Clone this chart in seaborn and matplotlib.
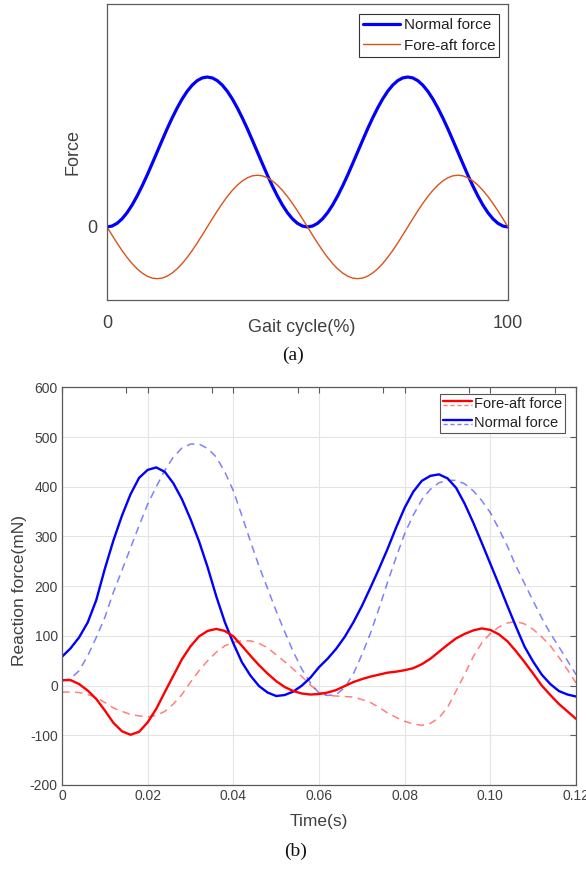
import numpy as np
import pandas as pd
import seaborn as sns
import matplotlib
matplotlib.use("Agg")
import matplotlib.pyplot as plt
from matplotlib.lines import Line2D
from matplotlib.legend_handler import HandlerBase

# ---- (a) schematic gait cycle, sampled every 1.25 %
gait_pct = np.linspace(0, 100, 81)
normal_schematic = [
    0, .006, .024, .054, .095, .146, .206, .273, .345, .422, .5, .578, .655, .727, .794, .854, .905, .946, .976, .994,
    1, .994, .976, .946, .905, .854, .794, .727, .655, .578, .5, .422, .345, .273, .206, .146, .095, .054, .024, .006,
    0, .006, .024, .054, .095, .146, .206, .273, .345, .422, .5, .578, .655, .727, .794, .854, .905, .946, .976, .994,
    1, .994, .976, .946, .905, .854, .794, .727, .655, .578, .5, .422, .345, .273, .206, .146, .095, .054, .024, .006,
    0]
foreaft_schematic = [
    0, -.054, -.107, -.157, -.203, -.244, -.279, -.307, -.328, -.341, -.345, -.341, -.328, -.307, -.279, -.244, -.203, -.157, -.107, -.054,
    0, .054, .107, .157, .203, .244, .279, .307, .328, .341, .345, .341, .328, .307, .279, .244, .203, .157, .107, .054,
    0, -.054, -.107, -.157, -.203, -.244, -.279, -.307, -.328, -.341, -.345, -.341, -.328, -.307, -.279, -.244, -.203, -.157, -.107, -.054,
    0, .054, .107, .157, .203, .244, .279, .307, .328, .341, .345, .341, .328, .307, .279, .244, .203, .157, .107, .054,
    0]

# ---- (b) reaction force (mN), sampled every 2 ms
time_s = np.round(np.linspace(0, 0.12, 61), 3)
normal_solid = [58, 75, 97, 127, 172, 235, 292, 342, 385, 418, 434, 439, 430, 407, 375, 335,
                290, 238, 180, 128, 85, 47, 20, -1, -14, -21, -19, -12, 0, 16, 37,
                54, 74, 98, 127, 160, 197, 235, 275, 318, 358, 390, 412, 422, 425, 417,
                398, 366, 328, 287, 245, 203, 160, 118, 78, 48, 22, 3, -11, -18, -22]
normal_dashed = [9, 14, 30, 60, 97, 137, 188, 232, 277, 322, 365, 400, 433, 460, 478, 486,
                 486, 477, 460, 430, 392, 342, 290, 240, 195, 150, 108, 68, 33, 5, -15,
                 -20, -18, -4, 23, 62, 105, 155, 208, 258, 306, 343, 374, 395, 408, 413,
                 413, 406, 392, 372, 348, 315, 280, 240, 205, 170, 136, 105, 78, 50, 22]
foreaft_solid = [11, 11, 3, -10, -27, -50, -75, -92, -99, -93, -74, -47, -13, 20, 53, 79,
                 99, 110, 114, 110, 99, 80, 60, 41, 24, 9, -3, -11, -16, -18, -17,
                 -14, -9, -1, 7, 13, 18, 22, 26, 28, 31, 35, 43, 54, 68, 82,
                 95, 104, 111, 115, 112, 103, 89, 69, 47, 24, 0, -19, -37, -52, -67]
foreaft_dashed = [-13, -13, -14, -18, -24, -34, -45, -52, -58, -61, -63, -60, -52, -37, -18, 7,
                  30, 50, 67, 80, 87, 90, 90, 85, 76, 62, 48, 33, 18, 1, -13,
                  -20, -21, -22, -23, -28, -34, -44, -55, -64, -72, -77, -80, -76, -65, -44,
                  -11, 23, 58, 86, 105, 118, 126, 129, 124, 113, 98, 80, 57, 32, 5]

x_ticks_b = [0, 0.02, 0.04, 0.06, 0.08, 0.10, 0.12]
x_ticklabels_b = ["0", "0.02", "0.04", "0.06", "0.08", "0.10", "0.12"]
y_ticks_b = [-200, -100, 0, 100, 200, 300, 400, 500, 600]

sns.set_theme(style="white")
plt.rcParams["font.family"] = ["Liberation Sans", "DejaVu Sans"]
plt.rcParams["axes.unicode_minus"] = False
plt.rcParams["lines.solid_joinstyle"] = "round"

axis_gray = "#5a5a5a"
text_gray = "#404040"

fig = plt.figure(figsize=(5.86, 8.69), dpi=100)

# ================= panel (a)
ax1 = fig.add_axes([0.1826, 0.6548, 0.6843, 0.3406])
df_a = pd.DataFrame({"pct": gait_pct, "normal": normal_schematic, "fore": foreaft_schematic})
sns.lineplot(data=df_a, x="pct", y="normal", ax=ax1, color="#0000ff", lw=2.3, label="Normal force")
sns.lineplot(data=df_a, x="pct", y="fore", ax=ax1, color="#D95319", lw=1.0, label="Fore-aft force")
ax1.set_xlim(0, 100)
ax1.set_ylim(-0.487, 1.487)
ax1.set_xticks([0, 100])
ax1.set_xticklabels(["0", "100"])
ax1.set_yticks([0])
ax1.set_yticklabels(["0"])
ax1.tick_params(length=0, labelsize=13, colors=text_gray)
ax1.tick_params(axis="x", pad=11)
ax1.tick_params(axis="y", pad=7)
ax1.set_xlabel("Gait cycle(%)", fontsize=13, color=text_gray)
ax1.xaxis.label.set_va("center")
ax1.xaxis.set_label_coords(0.485, -0.092)
ax1.set_ylabel("Force", fontsize=13, color=text_gray)
ax1.yaxis.label.set_va("center")
ax1.yaxis.set_label_coords(-0.085, 0.5)
for sp in ax1.spines.values():
    sp.set_color(axis_gray)
    sp.set_linewidth(0.9)
leg1 = ax1.legend(loc="upper right", bbox_to_anchor=(0.978, 0.966), borderaxespad=0,
                  fontsize=11, frameon=True, fancybox=False, framealpha=1,
                  handlelength=2.4, handletextpad=0.25, labelspacing=0.45, borderpad=0.25)
leg1.get_frame().set_edgecolor("#333333")
leg1.get_frame().set_linewidth(0.8)
for t in leg1.get_texts():
    t.set_color("#222222")

fig.text(0.5, 0.5915, "(a)", ha="center", va="center", fontsize=14,
         family=["Liberation Serif", "DejaVu Serif"], color="#111111")

# ================= panel (b)
ax2 = fig.add_axes([0.1058, 0.0967, 0.8772, 0.4575])
df_b = pd.DataFrame({"t": time_s, "fn": normal_solid, "fn_d": normal_dashed,
                     "ff": foreaft_solid, "ff_d": foreaft_dashed})
ax2.grid(True, color="#e4e4e4", lw=0.8)
ax2.set_axisbelow(True)
sns.lineplot(data=df_b, x="t", y="fn_d", ax=ax2, color="#0000ff", alpha=0.5, lw=1.1,
             linestyle=(0, (5, 3.5)))
sns.lineplot(data=df_b, x="t", y="ff_d", ax=ax2, color="#ff0000", alpha=0.5, lw=1.1,
             linestyle=(0, (5, 3.5)))
sns.lineplot(data=df_b, x="t", y="fn", ax=ax2, color="#0000ff", lw=1.7)
sns.lineplot(data=df_b, x="t", y="ff", ax=ax2, color="#ff0000", lw=1.7)
ax2.set_xlim(0, 0.12)
ax2.set_ylim(-200, 600)
ax2.set_xticks(x_ticks_b)
ax2.set_xticklabels(x_ticklabels_b)
ax2.set_yticks(y_ticks_b)
ax2.set_xticks([0.015, 0.035, 0.055, 0.075, 0.095, 0.115], minor=True)
ax2.tick_params(which="major", direction="in", length=4, width=0.8, color=axis_gray,
                top=True, right=True, labelsize=10, colors=text_gray, pad=3)
ax2.tick_params(which="minor", direction="in", length=4, width=0.8, color=axis_gray,
                top=True, bottom=False)
ax2.set_xlabel("Time(s)", fontsize=12.5, color=text_gray)
ax2.xaxis.label.set_va("center")
ax2.xaxis.set_label_coords(0.5, -0.093)
ax2.set_ylabel("Reaction force(mN)", fontsize=12.5, color=text_gray)
ax2.yaxis.label.set_va("center")
ax2.yaxis.set_label_coords(-0.082, 0.49)
for sp in ax2.spines.values():
    sp.set_color(axis_gray)
    sp.set_linewidth(0.9)


class PairHandler(HandlerBase):
    def create_artists(self, legend, orig_handle, xdescent, ydescent, width, height,
                       fontsize, trans):
        solid, dashed = orig_handle
        x = [-xdescent, width - xdescent]
        yc = height / 2 - ydescent
        l1 = Line2D(x, [yc + 0.2 * height] * 2, color=solid.get_color(), lw=1.7)
        l2 = Line2D(x, [yc - 0.22 * height] * 2, color=dashed.get_color(), lw=1.0,
                    alpha=0.5, linestyle=(0, (3, 2)))
        for ln in (l1, l2):
            ln.set_transform(trans)
        return [l1, l2]


h_ff = (Line2D([], [], color="#ff0000"), Line2D([], [], color="#ff0000"))
h_fn = (Line2D([], [], color="#0000ff"), Line2D([], [], color="#0000ff"))
leg2 = ax2.legend([h_ff, h_fn], ["Fore-aft force", "Normal force"],
                  handler_map={tuple: PairHandler()},
                  loc="upper right", bbox_to_anchor=(0.9786, 0.9836), borderaxespad=0,
                  fontsize=10.5, frameon=True, fancybox=False, framealpha=1,
                  handlelength=2.0, handletextpad=0.15, labelspacing=0.35, borderpad=0.2)
leg2.get_frame().set_edgecolor("#555555")
leg2.get_frame().set_linewidth(0.8)
for t in leg2.get_texts():
    t.set_color("#222222")

fig.text(0.505, 0.0207, "(b)", ha="center", va="center", fontsize=14,
         family=["Liberation Serif", "DejaVu Serif"], color="#111111")

fig.savefig("out.png", dpi=100)
